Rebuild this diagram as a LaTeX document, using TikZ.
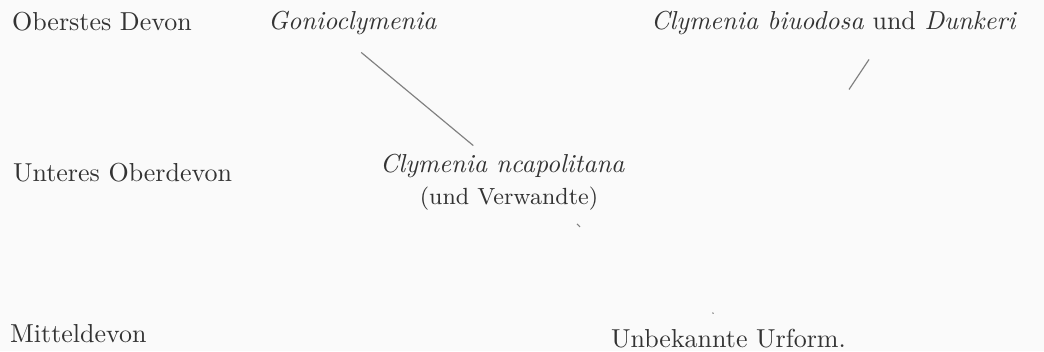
\documentclass[tikz,border=0pt]{standalone}
\usepackage{tikz}
\usetikzlibrary{positioning}
\begin{document}
\begin{tikzpicture}[x=0.385pt,y=-0.385pt,
    stufe/.style={anchor=base west,inner sep=1pt,text=black!80},
    gattung/.style={stufe,font=\itshape},
    ast/.style={black!50,line width=0.45pt}]
  \fill [black!2] (0,0) rectangle (1044,351);
  \node [stufe] (oberst) at (9,31) {Oberstes Devon};
  \node [stufe] (unter) at (10,182) {Unteres Oberdevon};
  \node [stufe] (mittel) at (7,343) {Mitteldevon};
  \node [gattung] (gonio) at (265,30) {Gonioclymenia};
  \node [stufe] (binod) at (648,30) {\textit{Clymenia\ biuodosa}\ und\ \textit{Dunkeri}};
  \node [gattung] (neapol) at (377,173) {Clymenia\ ncapolitana};
  \node [stufe,anchor=base,font=\small] (verw) at (509,205) {(und Verwandte)};
  \node [stufe] (urform) at (608,348) {Unbekannte Urform.};
  \draw [ast] ([shift={(9,14)}]gonio.south) -- ([shift={(-29,-6)}]neapol.north);
  \draw [ast] ([shift={(35,21)}]binod.south) -- ([shift={(15,51)}]binod.south);
  \draw [ast] ([shift={(68,10)}]verw.south) -- ([shift={(71,13)}]verw.south);
  \draw [ast] ([shift={(-16,-14)}]urform.north) -- ([shift={(-15,-13)}]urform.north);
\end{tikzpicture}
\end{document}
